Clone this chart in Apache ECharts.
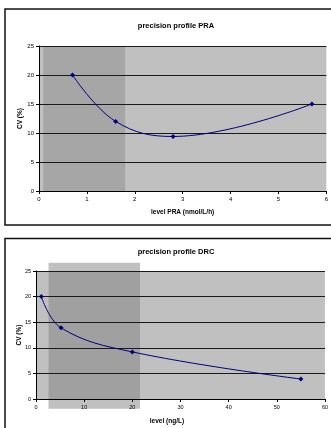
<!DOCTYPE html>
<html><head><meta charset="utf-8">
<script src="https://cdn.jsdelivr.net/npm/echarts@6/dist/echarts.min.js"></script>
<style>html,body{margin:0;padding:0;background:#fff}#c{width:331px;height:428px}</style>
</head><body><div id="c"></div>
<script>
const praLevel = [0.7, 1.6, 2.8, 5.7];
const praCV = [20, 12, 9.4, 15];
const praShadeX = [0.09, 1.8];
const praShadeY = [0, 25];
const drcLevel = [1.1, 5.2, 20, 55];
const drcCV = [20, 13.9, 9.2, 3.9];
const drcShadeX = [2.6, 21.6];
const drcShadeY = [-1.9, 26.6];
const titles = ['precision profile PRA', 'precision profile DRC'];
const xNames = ['level PRA (nmol/L/h)', 'level (ng/L)'];
const yName = 'CV (%)';

const FONT = 'Liberation Sans';
const chart = echarts.init(document.getElementById('c'), null, {renderer: 'canvas'});

function shade(gi, xs, ys, color) {
  return {
    type: 'custom', xAxisIndex: gi, yAxisIndex: gi, clip: false, z: 1, silent: true,
    data: [[xs[0], ys[0], xs[1], ys[1]]],
    renderItem: function (params, api) {
      const p0 = api.coord([api.value(0), api.value(3)]);
      const p1 = api.coord([api.value(2), api.value(1)]);
      return {type: 'rect', shape: {x: p0[0], y: p0[1], width: p1[0] - p0[0], height: p1[1] - p0[1]},
        style: {fill: color}};
    }
  };
}
function line(gi, xs, ys) {
  return {
    type: 'line', xAxisIndex: gi, yAxisIndex: gi, z: 5, smooth: 0.4,
    data: xs.map((x, i) => [x, ys[i]]),
    symbol: 'diamond', symbolSize: 5, showSymbol: true,
    lineStyle: {color: '#000080', width: 1}, itemStyle: {color: '#000080'}
  };
}
function xAxis(gi, max, interval, nameGap, fs, namePad) {
  return {
    type: 'value', gridIndex: gi, min: 0, max: max, interval: interval, z: 3,
    name: xNames[gi], nameLocation: 'middle', nameGap: nameGap, nameMoveOverlap: false,
    nameTextStyle: {fontFamily: FONT, fontSize: 6.5, fontWeight: 'bold', color: '#000', padding: namePad},
    axisLine: {show: true, lineStyle: {color: '#000', width: 1}},
    axisTick: {show: true, inside: false, length: 3, lineStyle: {color: '#000'}},
    axisLabel: {fontFamily: FONT, fontSize: fs, color: '#000', margin: 5},
    splitLine: {show: false}
  };
}
function yAxis(gi, nameGap, fs) {
  return {
    type: 'value', gridIndex: gi, min: 0, max: 25, interval: 5, z: 3,
    name: yName, nameLocation: 'middle', nameGap: nameGap, nameRotate: 90, nameMoveOverlap: false,
    nameTextStyle: {fontFamily: FONT, fontSize: 6.5, fontWeight: 'bold', color: '#000'},
    axisLine: {show: true, lineStyle: {color: '#000', width: 1}},
    axisTick: {show: true, inside: false, length: 3, lineStyle: {color: '#000'}},
    axisLabel: {fontFamily: FONT, fontSize: fs, color: '#000', margin: 5},
    splitLine: {show: true, lineStyle: {color: '#1a1a1a', width: 1}}
  };
}

chart.setOption({
  animation: false,
  backgroundColor: '#fff',
  title: [
    {text: titles[0], left: 171, top: 17, textAlign: 'center',
     textStyle: {fontFamily: FONT, fontSize: 7.5, fontWeight: 'bold', color: '#000'}},
    {text: titles[1], left: 171, top: 243, textAlign: 'center',
     textStyle: {fontFamily: FONT, fontSize: 7.5, fontWeight: 'bold', color: '#000'}}
  ],
  grid: [
    {left: 39, right: 2, top: 46, height: 145, show: true, backgroundColor: '#c0c0c0', borderWidth: 0},
    {left: 36, right: 6, top: 271, height: 128, show: true, backgroundColor: '#c0c0c0', borderWidth: 0}
  ],
  xAxis: [xAxis(0, 6, 1, 18, 6, [0, 0, 0, 0]), xAxis(1, 60, 10, 19, 5.5, [0, 27, 0, 0])],
  yAxis: [yAxis(0, 15, 6), yAxis(1, 13, 5.5)],
  graphic: [
    {type: 'rect', z: 100, silent: true, shape: {x: 5, y: 9, width: 340, height: 216},
     style: {fill: null, stroke: '#111', lineWidth: 1.5}},
    {type: 'rect', z: 100, silent: true, shape: {x: 5, y: 238.5, width: 340, height: 200},
     style: {fill: null, stroke: '#111', lineWidth: 1.5}}
  ],
  series: [
    shade(0, praShadeX, praShadeY, 'rgba(127,127,127,0.4)'),
    line(0, praLevel, praCV),
    shade(1, drcShadeX, drcShadeY, 'rgba(127,127,127,0.49)'),
    line(1, drcLevel, drcCV)
  ]
});
</script></body></html>
